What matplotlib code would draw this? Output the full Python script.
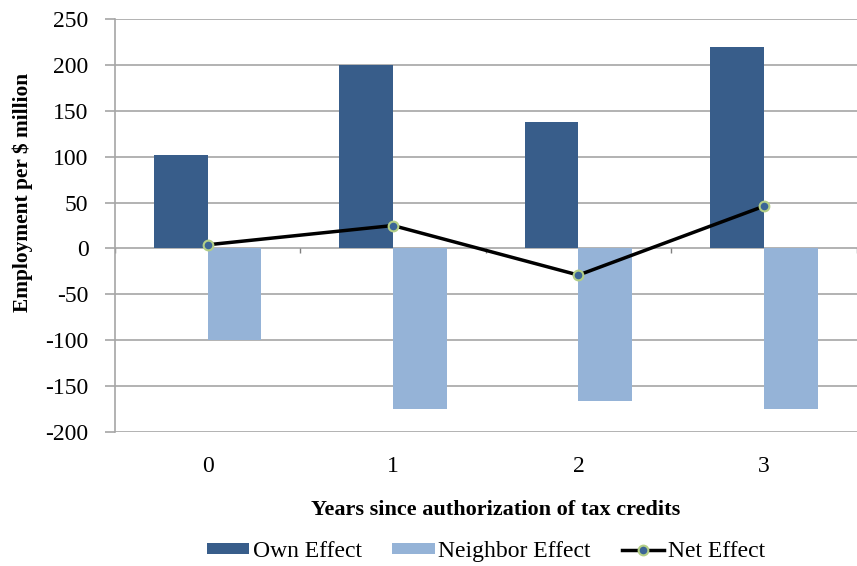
import matplotlib
matplotlib.use("Agg")
import matplotlib.pyplot as plt
import numpy as np

categories = ["0", "1", "2", "3"]
own_effect = [102, 200, 138, 220]
neighbor_effect = [-100, -175, -166, -175]
net_effect = [4, 25, -29, 46]
y_ticks = [-200, -150, -100, -50, 0, 50, 100, 150, 200, 250]

plt.rcParams['font.family'] = ['Liberation Serif', 'DejaVu Serif']

fig = plt.figure(figsize=(8.57, 5.66), dpi=100)
ax = fig.add_axes([0.134, 0.2367, 0.8655, 0.7297])

x = np.arange(len(categories))
w = 0.29
h_own = ax.bar(x - w / 2, own_effect, width=w, color="#385D8A", label="Own Effect", zorder=2)
h_nb = ax.bar(x + w / 2, neighbor_effect, width=w, color="#95B3D7", label="Neighbor Effect", zorder=2)
h_net, = ax.plot(x, net_effect, color="black", lw=2.5, marker="o", markersize=7,
                 markerfacecolor="#3B6597", markeredgecolor="#B4CF86", markeredgewidth=1.5,
                 label="Net Effect", zorder=3)

ax.set_xlim(-0.5, len(categories) - 0.5)
ax.set_ylim(-200, 250)
ax.set_yticks(y_ticks)
ax.set_yticklabels([str(v) for v in y_ticks], fontsize=17)
ax.set_xticks(x)
ax.set_xticklabels(categories, fontsize=17)
ax.tick_params(axis='x', length=0, pad=17)
ax.tick_params(axis='y', length=7, width=1.2, color="#A6A6A6", pad=12)
ax.yaxis.grid(True, color="#A6A6A6", lw=1.2, zorder=0)
ax.set_axisbelow(True)
for s in ["top", "right", "bottom"]:
    ax.spines[s].set_visible(False)
ax.spines["left"].set_color("#A6A6A6")
ax.spines["left"].set_linewidth(1.2)

# category boundary tick marks on the zero line
bounds = np.arange(len(categories) + 1) - 0.5
ax.vlines(bounds, -5, 0, color="#808080", lw=1, zorder=1)

ax.set_ylabel("Employment per $ million", fontsize=15.4, fontweight="bold")
ax.yaxis.set_label_coords(-0.11, 0.58)
ax.set_xlabel("Years since authorization of tax credits", fontsize=16, fontweight="bold")
ax.xaxis.set_label_coords(0.513, -0.165)

ax.legend(handles=[h_own, h_nb, h_net], loc="center", bbox_to_anchor=(0.5, -0.29),
          bbox_transform=ax.transAxes, ncol=3, frameon=False,
          fontsize=17, handlelength=1.8, handleheight=0.35, handletextpad=0.15,
          columnspacing=1.3)

fig.savefig("out.png", dpi=100)
